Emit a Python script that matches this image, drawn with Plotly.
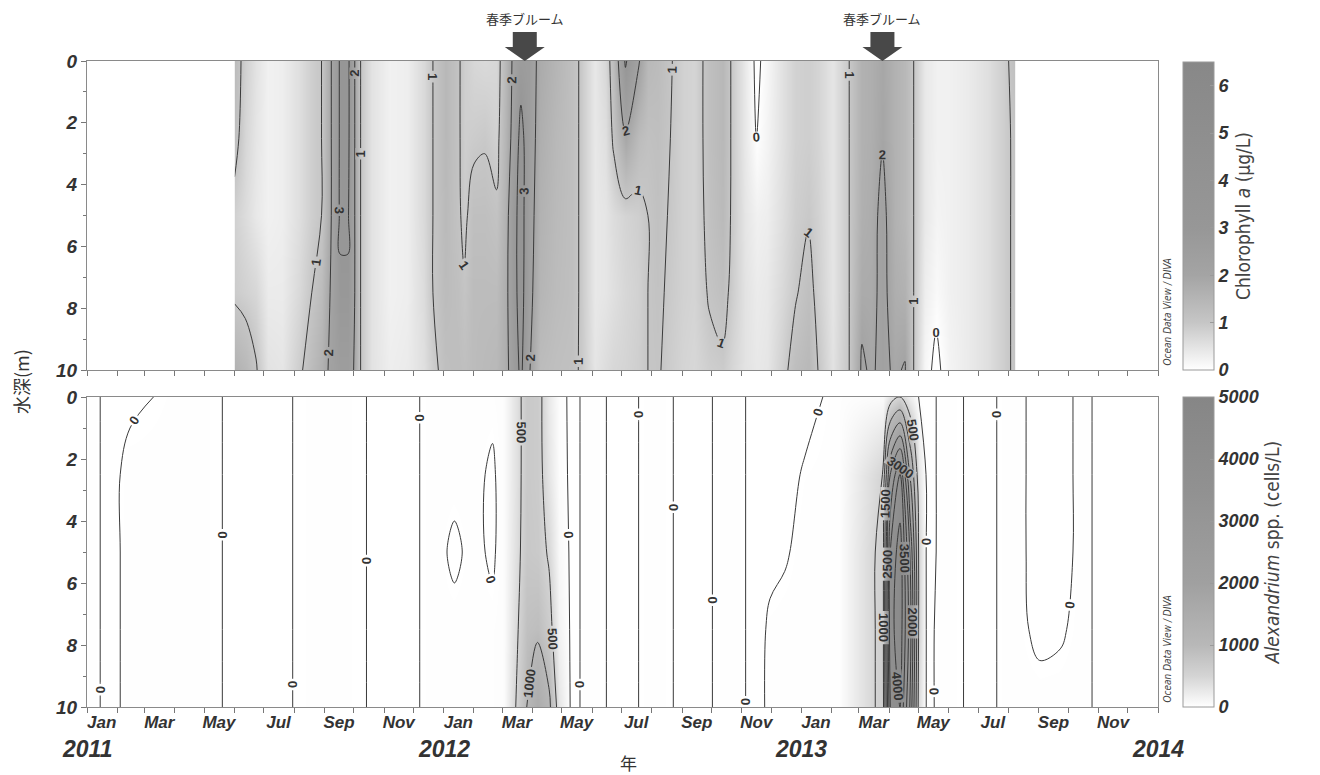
import plotly.graph_objects as go

# ---------------- data ----------------
depths = [0, 2.5, 5, 7.5, 10]

chl_dates = ['2011-06-01', '2011-06-12', '2011-06-23', '2011-07-05', '2011-07-20', '2011-08-05',
             '2011-08-19', '2011-08-29', '2011-09-08', '2011-09-17', '2011-09-25', '2011-10-02',
             '2011-10-08', '2011-10-19', '2011-11-07', '2011-11-25', '2011-12-11', '2011-12-21',
             '2012-01-03', '2012-01-15', '2012-01-22', '2012-02-01', '2012-02-12', '2012-02-24',
             '2012-03-04', '2012-03-12', '2012-03-20', '2012-03-28', '2012-04-08', '2012-04-24',
             '2012-05-11', '2012-05-20', '2012-06-03', '2012-06-15', '2012-06-23', '2012-07-05',
             '2012-07-18', '2012-07-28', '2012-08-07', '2012-08-17', '2012-09-01', '2012-09-14',
             '2012-09-29', '2012-10-12', '2012-10-23', '2012-11-04', '2012-11-16', '2012-11-27',
             '2012-12-12', '2012-12-26', '2013-01-08', '2013-01-18', '2013-02-02', '2013-02-13',
             '2013-02-19', '2013-03-04', '2013-03-14', '2013-03-25', '2013-04-06', '2013-04-17',
             '2013-04-26', '2013-05-07', '2013-05-19', '2013-06-02', '2013-06-20', '2013-07-11',
             '2013-07-27', '2013-08-08']
chl_0m = [1.3, 0.8, 0.5, 0.25, 0.3, 0.55, 0.85, 1.0, 2.0, 3.1, 3.2, 2.0, 1.0, 0.5, 0.25, 0.3, 0.65,
          1.0, 1.4, 1.1, 0.85, 0.7, 0.65, 0.7, 1.4, 2.1, 2.6, 2.5, 1.8, 1.5, 1.2, 0.95, 0.4, 0.7,
          1.3, 3.1, 2.1, 1.4, 1.3, 1.1, 0.8, 0.75, 1.2, 1.4, 0.9, 0.4, -0.1, 0.15, 0.5, 0.8, 0.85,
          0.75, 0.45, 0.8, 1.0, 1.6, 1.7, 1.9, 1.6, 1.4, 1.0, 0.4, 0.25, 0.25, 0.35, 0.55, 0.85, 1.2]
chl_2_5m = [1.2, 0.7, 0.45, 0.25, 0.3, 0.55, 0.85, 1.0, 2.0, 3.1, 3.2, 2.0, 1.0, 0.5, 0.25, 0.3, 0.65,
            1.0, 1.4, 1.1, 0.85, 0.9, 0.95, 0.8, 1.5, 2.2, 3.3, 2.5, 1.7, 1.4, 1.2, 0.95, 0.4, 0.55,
            1.1, 1.9, 1.3, 1.15, 1.2, 1.05, 0.8, 0.75, 1.2, 1.4, 0.9, 0.4, 0.0, 0.2, 0.5, 0.8, 0.85,
            0.75, 0.45, 0.8, 1.0, 1.6, 1.7, 1.95, 1.6, 1.4, 1.0, 0.4, 0.25, 0.25, 0.35, 0.55, 0.85, 1.1]
chl_5m = [0.8, 0.6, 0.4, 0.25, 0.3, 0.55, 0.85, 1.0, 2.0, 3.1, 3.1, 2.0, 1.0, 0.5, 0.25, 0.3, 0.65,
          1.0, 1.35, 1.1, 0.9, 1.2, 1.2, 1.1, 1.6, 2.6, 3.4, 2.4, 1.6, 1.35, 1.2, 0.95, 0.4, 0.45,
          0.6, 0.75, 0.85, 1.0, 1.15, 1.0, 0.8, 0.75, 1.15, 1.35, 0.9, 0.45, 0.25, 0.3, 0.55, 0.85, 0.95,
          0.8, 0.45, 0.8, 1.0, 1.65, 1.75, 2.2, 1.6, 1.4, 1.0, 0.4, 0.2, 0.25, 0.35, 0.55, 0.85, 1.1]
chl_7_5m = [0.9, 0.8, 0.7, 0.35, 0.35, 0.65, 1.0, 1.3, 2.1, 2.9, 2.9, 2.0, 1.0, 0.5, 0.25, 0.3, 0.6,
            1.0, 1.3, 1.2, 1.05, 1.3, 1.3, 1.3, 1.7, 2.6, 3.4, 2.3, 1.5, 1.3, 1.2, 0.95, 0.4, 0.45,
            0.55, 0.7, 0.8, 1.0, 1.1, 0.95, 0.8, 0.75, 1.05, 1.2, 0.85, 0.5, 0.35, 0.4, 0.65, 0.95, 1.2,
            0.85, 0.45, 0.8, 1.0, 1.8, 1.8, 2.2, 1.7, 1.6, 1.0, 0.3, 0.1, 0.25, 0.35, 0.55, 0.85, 1.1]
chl_10m = [1.6, 1.4, 1.05, 0.5, 0.45, 0.85, 1.3, 1.6, 2.2, 2.5, 2.5, 1.9, 1.0, 0.5, 0.3, 0.35, 0.55,
           0.85, 1.2, 1.25, 1.2, 1.3, 1.35, 1.4, 1.7, 2.4, 3.2, 2.1, 1.3, 1.2, 1.15, 0.95, 0.45, 0.6,
           0.7, 0.75, 0.85, 1.0, 1.05, 0.9, 0.75, 0.7, 0.85, 0.9, 0.7, 0.5, 0.4, 0.45, 0.8, 1.25, 1.4,
           1.0, 0.5, 0.85, 1.0, 2.1, 1.9, 2.2, 1.9, 2.05, 1.0, 0.15, -0.1, 0.2, 0.35, 0.55, 0.85, 1.1]

alx_dates = ['2011-01-04', '2011-01-25', '2011-02-14', '2011-04-15', '2011-06-23', '2011-09-06',
             '2011-11-21', '2011-12-24', '2012-01-12', '2012-02-01', '2012-02-20', '2012-03-03',
             '2012-03-16', '2012-03-26', '2012-04-06', '2012-04-18', '2012-04-28', '2012-05-10',
             '2012-05-29', '2012-07-03', '2012-08-03', '2012-09-12', '2012-10-22', '2012-11-19',
             '2012-11-30', '2012-12-15', '2013-01-05', '2013-02-10', '2013-03-25', '2013-04-02',
             '2013-04-12', '2013-04-22', '2013-05-01', '2013-05-09', '2013-05-29', '2013-07-04',
             '2013-08-05', '2013-09-02', '2013-09-23', '2013-10-19', '2013-11-01']
alx_0m = [15, -15, -10, 15, -15, 15, -15, 15, 15, 15, 15, 30, 350, 700, 650, 250, 30, -15, 15, -15,
          15, -15, 15, -15, -15, -15, -15, 15, 50, 300, 500, 200, 0, -15, 15, -15, 15, -15, -15, 15, -15]
alx_2_5m = [15, -15, 15, 15, -15, 15, -15, 15, 15, 15, -10, 30, 350, 700, 650, 300, 40, -15, 15, -15,
            15, -15, 15, -15, -15, -15, 5, 15, 500, 2500, 3500, 1500, 300, -15, 15, -15, 15, -15, -15, 15, -15]
alx_5m = [15, -15, 15, 15, -15, 15, -15, 15, -10, 15, -10, 30, 380, 720, 680, 450, 80, -15, 15, -15,
          15, -15, 15, -15, -15, -5, 15, 15, 600, 3500, 4300, 2500, 500, -15, 15, -15, 15, -15, -15, 15, -15]
alx_7_5m = [15, -15, 15, 15, -15, 15, -15, 15, 15, 15, 15, 30, 450, 850, 900, 650, 150, -15, 15, -15,
            15, -15, 15, -15, 10, 15, 15, 15, 600, 3800, 4300, 2800, 500, -10, 15, -15, 15, -10, -5, 15, -15]
alx_10m = [15, -15, 15, 15, -15, 15, -15, 15, 15, 15, 15, 30, 550, 1000, 1500, 1100, 300, -15, 15, -15,
           15, -15, 15, -15, 15, 15, 15, 15, 600, 3500, 4000, 2500, 400, -10, 15, -15, 15, 15, 15, 15, -15]

month_labels = ['Jan', 'Mar', 'May', 'Jul', 'Sep', 'Nov']
label_years = [2011, 2012, 2013]
year_labels = ['2011', '2012', '2013', '2014']
bloom_dates = ['2012-03-24', '2013-03-25']
bloom_text = '春季ブルーム'

for arr in (chl_0m, chl_2_5m, chl_5m, chl_7_5m, chl_10m):
    assert len(arr) == len(chl_dates)
for arr in (alx_0m, alx_2_5m, alx_5m, alx_7_5m, alx_10m):
    assert len(arr) == len(alx_dates)

chl_z = [chl_0m, chl_2_5m, chl_5m, chl_7_5m, chl_10m]
alx_z = [alx_0m, alx_2_5m, alx_5m, alx_7_5m, alx_10m]

# ---------------- styling ----------------
W, H = 1320, 775
ML, MR, MT, MB = 87, 162, 61, 68
PW = W - ML - MR
PH = H - MT - MB
top_dom = [(707 - 370) / PH, 1.0]
bot_dom = [0.0, (707 - 397) / PH]

TXT = '#333333'
BI = dict(weight='bold', style='italic')
sans = 'Liberation Sans, Arial'
narrow = 'Liberation Sans Narrow, DejaVu Sans Condensed, Liberation Sans'
cjk = 'Noto Sans CJK JP, Noto Sans CJK SC'

chl_scale = [[0.0, '#ffffff'], [0.154, '#c6c6c6'], [0.308, '#a4a4a4'], [0.46, '#979797'], [1.0, '#888888']]
alx_scale = [[0.0, '#ffffff'], [0.1, '#d4d4d4'], [0.2, '#b8b8b8'], [0.4, '#a0a0a0'], [0.7, '#919191'], [1.0, '#868686']]

cb_common = dict(x=(1183 - ML) / PW, xanchor='left', xpad=0, thickness=31, ypad=0,
                 lenmode='fraction', outlinecolor='#9a9a9a', outlinewidth=1,
                 ticks='inside', ticklen=4, tickcolor='#9a9a9a',
                 tickfont=dict(family=sans, size=18, color=TXT, **BI))
labfont = dict(size=13, color=TXT, family=sans, weight='bold')

fig = go.Figure()

# colour-bar carriers (same data, fully transparent; the visible fill is drawn by the contour traces)
fig.add_trace(go.Heatmap(
    x=chl_dates, y=depths, z=chl_z, xaxis='x2', yaxis='y2', opacity=0, hoverinfo='skip',
    zauto=False, zmin=0, zmax=6.5, colorscale=chl_scale,
    colorbar=dict(y=(707 - 216) / PH, yanchor='middle', len=(370 - 62) / PH,
                  tickvals=[0, 1, 2, 3, 4, 5, 6],
                  title=dict(text='Chlorophyll <i>a</i> (μg/L)', side='right',
                             font=dict(family=narrow, size=19, color='#444444')),
                  **cb_common),
))
fig.add_trace(go.Heatmap(
    x=alx_dates, y=depths, z=alx_z, xaxis='x', yaxis='y', opacity=0, hoverinfo='skip',
    zauto=False, zmin=0, zmax=5000, colorscale=alx_scale,
    colorbar=dict(y=(707 - 552) / PH, yanchor='middle', len=(707 - 397) / PH,
                  tickvals=[0, 1000, 2000, 3000, 4000, 5000],
                  title=dict(text='<i>Alexandrium</i> spp. (cells/L)', side='right',
                             font=dict(family=narrow, size=19, color='#444444')),
                  **cb_common),
))

# top panel: chlorophyll a
fig.add_trace(go.Contour(
    x=chl_dates, y=depths, z=chl_z, xaxis='x2', yaxis='y2', showscale=False,
    zauto=False, zmin=0, zmax=6.5, colorscale=chl_scale, hoverinfo='skip',
    contours=dict(start=0, end=6, size=1, coloring='heatmap', showlabels=True, labelfont=labfont),
    line=dict(color='#3a3a3a', width=1, smoothing=1),
))

# bottom panel: Alexandrium spp.
fig.add_trace(go.Contour(
    x=alx_dates, y=depths, z=alx_z, xaxis='x', yaxis='y', showscale=False,
    zauto=False, zmin=0, zmax=5000, colorscale=alx_scale, hoverinfo='skip',
    contours=dict(start=0, end=4500, size=500, coloring='heatmap', showlabels=True, labelfont=labfont),
    line=dict(color='#3a3a3a', width=1, smoothing=1),
))

month_ticks = [f'{yr}-{m:02d}-16' for yr in label_years for m in (1, 3, 5, 7, 9, 11)]
month_text = [lab for yr in label_years for lab in month_labels]

xcommon = dict(type='date', range=['2011-01-01', '2014-01-01'], showline=True, mirror=True,
               linecolor='#8a8a8a', linewidth=1, showgrid=False, zeroline=False,
               tickmode='array', tickvals=month_ticks, ticktext=month_text, ticks='',
               minor=dict(ticks='outside', ticklen=5, tickcolor='#777777', dtick='M1',
                          tick0='2011-01-01', showgrid=False))
ycommon = dict(range=[10, 0], showline=True, mirror=True, linecolor='#8a8a8a', linewidth=1,
               showgrid=False, zeroline=False, tickmode='array', tickvals=[0, 2, 4, 6, 8, 10],
               ticks='outside', ticklen=5, tickcolor='#777777',
               minor=dict(ticks='outside', ticklen=3, tickcolor='#777777', dtick=1, tick0=0, showgrid=False),
               tickfont=dict(family=sans, size=19, color=TXT, **BI))

fig.update_layout(
    width=W, height=H, margin=dict(l=ML, r=MR, t=MT, b=MB),
    paper_bgcolor='white', plot_bgcolor='white', showlegend=False,
    xaxis=dict(domain=[0, 1], anchor='y', tickfont=dict(family=sans, size=17, color=TXT, **BI), **xcommon),
    yaxis=dict(domain=bot_dom, anchor='x', **ycommon),
    xaxis2=dict(domain=[0, 1], anchor='y2', matches='x', showticklabels=False, **xcommon),
    yaxis2=dict(domain=top_dom, anchor='x2', **ycommon),
)

ann = []
for yl in year_labels:
    ann.append(dict(x=f'{yl}-01-01', xref='x', y=0, yref='paper', yshift=-42, yanchor='middle',
                    text=yl, showarrow=False,
                    font=dict(family=sans, size=23, color=TXT, **BI)))
ann.append(dict(x=(628 - ML) / PW, xref='paper', y=0, yref='paper', yshift=-55, yanchor='middle',
                text='年', showarrow=False, font=dict(family=cjk, size=17, color=TXT)))
ann.append(dict(x=(21 - ML) / PW, xref='paper', y=(707 - 382) / PH, yref='paper',
                text='水深(m)', textangle=-90, showarrow=False, xanchor='center', yanchor='middle',
                font=dict(family=cjk, size=18, color=TXT)))
for bd in bloom_dates:
    ann.append(dict(x=bd, xref='x2', y=1, yref='paper', yshift=43, yanchor='middle',
                    text=bloom_text, showarrow=False, font=dict(family=cjk, size=13, color=TXT)))
for ybase in (top_dom[0], bot_dom[0]):
    ann.append(dict(x=(1167 - ML) / PW, xref='paper', y=ybase, yref='paper', yshift=2,
                    text='Ocean Data View / DIVA', textangle=-90, showarrow=False,
                    xanchor='center', yanchor='bottom',
                    font=dict(family=narrow, size=10, color='#444444', style='italic')))
fig.update_layout(annotations=ann)

shapes = []
for bd in bloom_dates:
    shapes.append(dict(type='path', xref='x2', xsizemode='pixel', xanchor=bd,
                       yref='paper', ysizemode='pixel', yanchor=1,
                       path='M-12,29 L12,29 L12,14 L20,14 L0,0 L-20,14 L-12,14 Z',
                       fillcolor='#484848', line=dict(width=0)))
fig.update_layout(shapes=shapes)

fig.write_html('out.html')
